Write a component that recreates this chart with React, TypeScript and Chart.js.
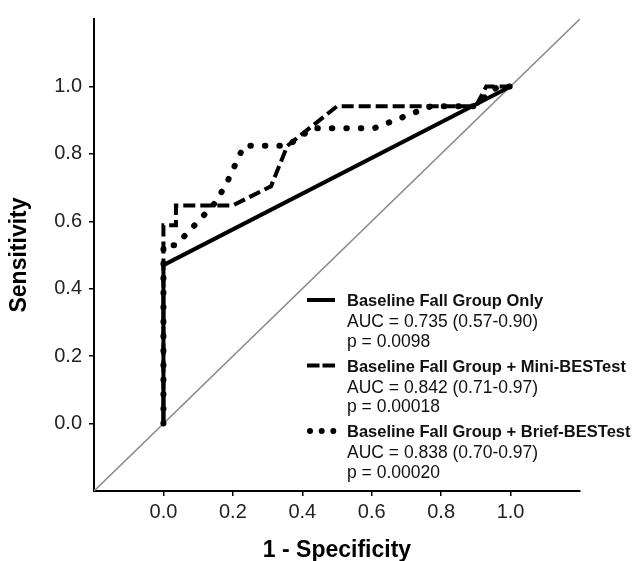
import { useEffect, useRef } from 'react';
import { Chart, registerables } from 'chart.js';

Chart.register(...registerables);

// ---- data ----
const axisMin = -0.2;
const axisMax = 1.2;
const xTicks = [0, 0.2, 0.4, 0.6, 0.8, 1.0];
const yTicks = [0, 0.2, 0.4, 0.6, 0.8, 1.0];

const fallOnlyFpr = [0, 0, 1];
const fallOnlyTpr = [0, 0.47, 1];

const miniFpr = [0, 0, 0.036, 0.036, 0.2, 0.31, 0.357, 0.5, 0.9, 0.93, 1];
const miniTpr = [0, 0.588, 0.588, 0.647, 0.647, 0.704, 0.824, 0.941, 0.941, 1, 1];

const briefFpr = [0, 0, 0.036, 0.143, 0.179, 0.232, 0.357, 0.429, 0.607, 0.77, 0.893, 0.964, 1];
const briefTpr = [0, 0.529, 0.529, 0.647, 0.706, 0.824, 0.824, 0.876, 0.876, 0.941, 0.941, 1, 1];

const chanceLine = [-0.2, 1.2];

const seriesNames = [
  'Baseline Fall Group Only',
  'Baseline Fall Group + Mini-BESTest',
  'Baseline Fall Group + Brief-BESTest',
];
const aucLabels = ['AUC = 0.735 (0.57-0.90)', 'AUC = 0.842 (0.71-0.97)', 'AUC = 0.838 (0.70-0.97)'];
const pLabels = ['p = 0.0098', 'p = 0.00018', 'p = 0.00020'];

const xTitle = '1 - Specificity';
const yTitle = 'Sensitivity';

// ---- styles ----
const FONT = '"Liberation Sans", Arial, Helvetica, sans-serif';
const toPoints = (xs: number[], ys: number[]) => xs.map((x, i) => ({ x, y: ys[i] }));

const legendPlugin = {
  id: 'rocLegend',
  afterDraw(chart: any) {
    const ctx = chart.ctx as CanvasRenderingContext2D;
    const keyX0 = 307;
    const keyX1 = 335;
    const textX = 347;
    const firstBaseline = 306;
    const entryStep = 65.5;
    ctx.save();
    ctx.fillStyle = '#111';
    ctx.strokeStyle = '#000';
    ctx.textAlign = 'left';
    ctx.textBaseline = 'alphabetic';
    for (let i = 0; i < seriesNames.length; i++) {
      const b = firstBaseline + i * entryStep;
      const ky = b - 6;
      // key
      ctx.save();
      ctx.lineWidth = 4;
      ctx.strokeStyle = '#000';
      if (i === 0) {
        ctx.setLineDash([]);
        ctx.beginPath();
        ctx.moveTo(keyX0, ky);
        ctx.lineTo(keyX1, ky);
        ctx.stroke();
      } else if (i === 1) {
        ctx.setLineDash([12.5, 3]);
        ctx.lineCap = 'butt';
        ctx.beginPath();
        ctx.moveTo(keyX0, ky);
        ctx.lineTo(keyX1, ky);
        ctx.stroke();
      } else {
        ctx.fillStyle = '#000';
        [310, 321.7, 333.3].forEach((cx) => {
          ctx.beginPath();
          ctx.arc(cx, ky, 3, 0, Math.PI * 2);
          ctx.fill();
        });
      }
      ctx.restore();
      ctx.fillStyle = '#111';
      ctx.font = `bold 16.5px ${FONT}`;
      ctx.fillText(seriesNames[i], textX, b);
      ctx.font = `17.5px ${FONT}`;
      ctx.fillText(aucLabels[i], textX, b + 21);
      ctx.fillText(pLabels[i], textX, b + 40.5);
    }
    ctx.restore();
  },
};

export default function App() {
  const canvasRef = useRef<HTMLCanvasElement | null>(null);

  useEffect(() => {
    const canvas = canvasRef.current;
    if (!canvas) return;
    const chart = new Chart(canvas, {
      type: 'scatter',
      data: {
        datasets: [
          {
            label: seriesNames[0],
            data: toPoints(fallOnlyFpr, fallOnlyTpr),
            showLine: true,
            borderColor: '#000',
            borderWidth: 4,
            pointRadius: 0,
            borderJoinStyle: 'round',
          },
          {
            label: seriesNames[1],
            data: toPoints(miniFpr, miniTpr),
            showLine: true,
            borderColor: '#000',
            borderWidth: 4,
            borderDash: [12, 5],
            borderCapStyle: 'butt',
            pointRadius: 0,
          },
          {
            label: seriesNames[2],
            data: toPoints(briefFpr, briefTpr),
            showLine: true,
            borderColor: '#000',
            borderWidth: 6,
            borderDash: [0.5, 14],
            borderCapStyle: 'round',
            pointRadius: 0,
          },
          {
            label: 'chance',
            data: toPoints(chanceLine, chanceLine),
            showLine: true,
            borderColor: '#8a8a8a',
            borderWidth: 1.6,
            pointRadius: 0,
          },
        ],
      } as any,
      options: {
        animation: false,
        responsive: false,
        devicePixelRatio: 1,
        layout: { padding: { top: 10, right: 54, bottom: 0, left: 0 } },
        plugins: {
          legend: { display: false },
          tooltip: { enabled: false },
        },
        scales: {
          x: {
            type: 'linear',
            min: axisMin,
            max: axisMax,
            afterBuildTicks: (s: any) => {
              s.ticks = xTicks.map((v) => ({ value: v }));
            },
            afterFit: (s: any) => {
              s.height = 70;
            },
            ticks: {
              callback: (v: any) => Number(v).toFixed(1),
              color: '#222',
              font: { family: FONT, size: 20 },
              padding: 4,
              maxRotation: 0,
              autoSkip: false,
            },
            grid: {
              drawOnChartArea: false,
              drawTicks: true,
              tickLength: 5,
              color: '#000',
              lineWidth: 1.5,
            },
            border: { display: true, color: '#000', width: 2 },
            title: {
              display: true,
              text: xTitle,
              color: '#000',
              font: { family: FONT, size: 23, weight: 'bold' },
              padding: { top: 0, bottom: -3 },
            },
          },
          y: {
            type: 'linear',
            min: axisMin,
            max: axisMax,
            afterBuildTicks: (s: any) => {
              s.ticks = yTicks.map((v) => ({ value: v }));
            },
            afterFit: (s: any) => {
              s.width = 94;
            },
            ticks: {
              callback: (v: any) => Number(v).toFixed(1),
              color: '#222',
              font: { family: FONT, size: 20 },
              padding: 7,
              autoSkip: false,
            },
            grid: {
              drawOnChartArea: false,
              drawTicks: true,
              tickLength: 5,
              color: '#000',
              lineWidth: 1.5,
            },
            border: { display: true, color: '#000', width: 2 },
            title: {
              display: true,
              text: yTitle,
              color: '#000',
              font: { family: FONT, size: 23, weight: 'bold' },
              padding: { top: 6, bottom: 0 },
            },
          },
        },
      } as any,
      plugins: [legendPlugin],
    });
    return () => chart.destroy();
  }, []);

  return (
    <div style={{ position: 'fixed', left: 0, top: 0, width: 634, height: 561, background: '#fff' }}>
      <canvas ref={canvasRef} width={634} height={561} style={{ width: 634, height: 561, display: 'block' }} />
    </div>
  );
}
